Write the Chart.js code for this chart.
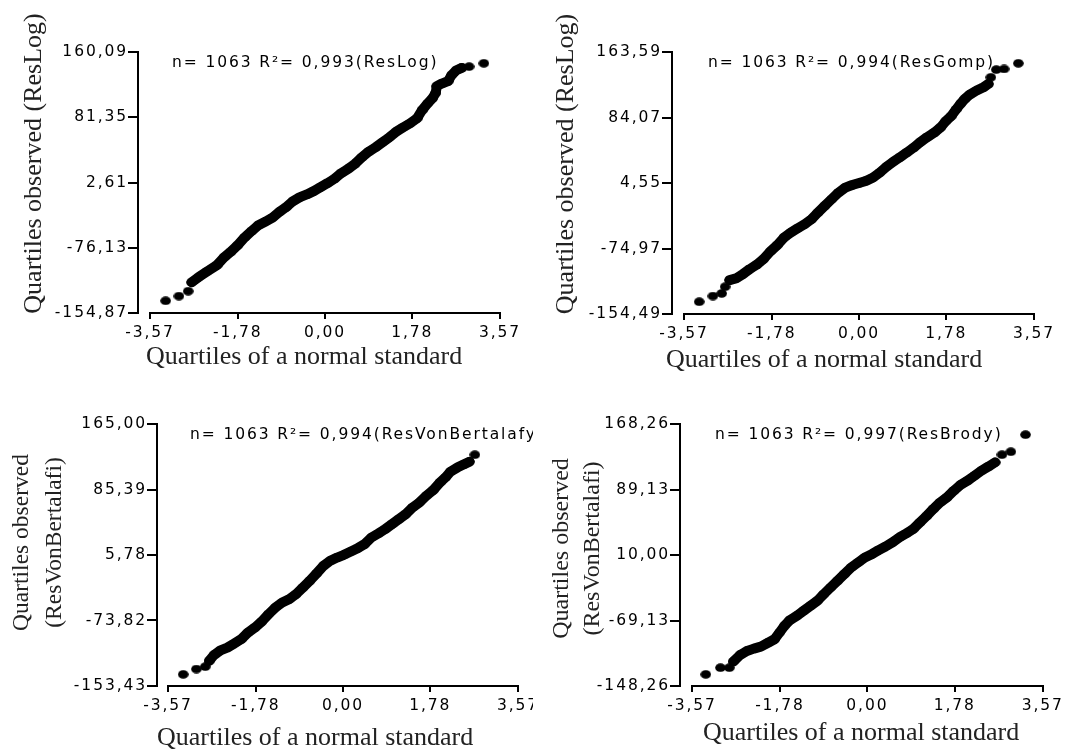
<!DOCTYPE html>
<html>
<head>
<meta charset="utf-8">
<script src="https://cdn.jsdelivr.net/npm/chart.js@4.4.1/dist/chart.umd.min.js"></script>
<style>
html,body{margin:0;padding:0;background:#fff;}
body{width:1065px;height:753px;position:relative;overflow:hidden;}
.panel{position:absolute;overflow:hidden;}
.panel canvas{position:absolute;left:0;top:0;}
</style>
</head>
<body>
<div class="panel" style="left:0px;top:0px;width:533px;height:378px"><canvas id="c1" width="533" height="378"></canvas></div>
<div class="panel" style="left:533px;top:0px;width:532px;height:380px"><canvas id="c2" width="532" height="380"></canvas></div>
<div class="panel" style="left:0px;top:380px;width:533px;height:373px"><canvas id="c3" width="570" height="373"></canvas></div>
<div class="panel" style="left:536px;top:380px;width:529px;height:373px"><canvas id="c4" width="529" height="373"></canvas></div>
<script>
// ---------- data ----------
const xTicks = [-3.57, -1.78, 0.00, 1.78, 3.57];

const p1YTicks = [-154.87, -76.13, 2.61, 81.35, 160.09];
const p2YTicks = [-154.49, -74.97, 4.55, 84.07, 163.59];
const p3YTicks = [-153.43, -73.82, 5.78, 85.39, 165.00];
const p4YTicks = [-148.26, -69.13, 10.00, 89.13, 168.26];

const p1Note = "n= 1063 R²= 0,993(ResLog)";
const p2Note = "n= 1063 R²= 0,994(ResGomp)";
const p3Note = "n= 1063 R²= 0,994(ResVonBertalafy)";
const p4Note = "n= 1063 R²= 0,997(ResBrody)";

const xTitle = "Quartiles of a normal standard";
const p1YTitle = ["Quartiles observed (ResLog)"];
const p2YTitle = ["Quartiles observed (ResLog)"];
const p3YTitle = ["Quartiles observed", "(ResVonBertalafi)"];
const p4YTitle = ["Quartiles observed", "(ResVonBertalafi)"];

const p1Tails = [{x:-3.25,y:-140.1},{x:-2.98,y:-134.5},{x:-2.79,y:-128.5},{x:2.94,y:142.5},{x:3.24,y:146.5}];
const p1Band = [
 {x:-2.72,y:-117.7},{x:-2.58,y:-111.7},{x:-2.41,y:-104.9},{x:-2.20,y:-96.9},{x:-2.06,y:-87.7},
 {x:-1.92,y:-80.9},{x:-1.78,y:-72.9},{x:-1.64,y:-63.7},{x:-1.50,y:-56.1},{x:-1.36,y:-48.9},
 {x:-1.21,y:-44.5},{x:-1.07,y:-39.7},{x:-0.93,y:-32.9},{x:-0.79,y:-27.0},{x:-0.65,y:-19.8},
 {x:-0.51,y:-15.0},{x:-0.37,y:-11.8},{x:-0.23,y:-7.8},{x:-0.09,y:-3.0},{x:0.05,y:1.8},
 {x:0.19,y:7.0},{x:0.33,y:13.8},{x:0.47,y:19.0},{x:0.61,y:25.0},{x:0.75,y:33.0},
 {x:0.89,y:39.8},{x:1.03,y:45.0},{x:1.17,y:51.0},{x:1.31,y:57.0},{x:1.45,y:63.8},
 {x:1.59,y:69.0},{x:1.73,y:73.8},{x:1.88,y:80.2},{x:1.98,y:89.8},{x:2.09,y:97.8},
 {x:2.19,y:104.1},{x:2.26,y:110.9},{x:2.28,y:118.9},{x:2.37,y:121.7},{x:2.51,y:124.9},
 {x:2.58,y:132.1},{x:2.68,y:138.1},{x:2.79,y:140.9}
];

const p2Tails = [{x:-3.26,y:-139.6},{x:-2.98,y:-132.7},{x:-2.80,y:-129.5},{x:-2.73,y:-121.4},
 {x:2.69,y:132.9},{x:2.80,y:142.2},{x:2.96,y:143.0},{x:3.25,y:149.9}];
const p2Band = [
 {x:-2.64,y:-113.3},{x:-2.51,y:-111.3},{x:-2.37,y:-106.1},{x:-2.23,y:-100.0},{x:-2.09,y:-94.8},
 {x:-1.95,y:-87.9},{x:-1.81,y:-78.6},{x:-1.67,y:-71.0},{x:-1.53,y:-61.7},{x:-1.39,y:-55.6},
 {x:-1.25,y:-50.4},{x:-1.11,y:-45.5},{x:-0.97,y:-39.5},{x:-0.84,y:-31.4},{x:-0.70,y:-23.3},
 {x:-0.56,y:-15.2},{x:-0.42,y:-7.2},{x:-0.28,y:-1.1},{x:-0.14,y:2.1},{x:0.00,y:4.5},
 {x:0.14,y:7.0},{x:0.28,y:11.0},{x:0.42,y:17.1},{x:0.56,y:24.3},{x:0.70,y:30.4},
 {x:0.84,y:36.0},{x:0.97,y:41.3},{x:1.11,y:47.3},{x:1.25,y:54.2},{x:1.39,y:60.2},
 {x:1.53,y:65.5},{x:1.67,y:72.4},{x:1.77,y:79.6},{x:1.88,y:85.7},{x:1.98,y:93.8},
 {x:2.07,y:100.6},{x:2.16,y:106.7},{x:2.26,y:111.9},{x:2.40,y:116.8},{x:2.54,y:120.8},
 {x:2.64,y:124.8}
];

const p3Tails = [{x:-3.26,y:-139.3},{x:-2.99,y:-132.8},{x:-2.81,y:-129.9},{x:2.69,y:127.7}];
const p3Band = [
 {x:-2.73,y:-123.0},{x:-2.63,y:-115.7},{x:-2.50,y:-110.1},{x:-2.36,y:-106.8},{x:-2.22,y:-101.9},
 {x:-2.08,y:-96.7},{x:-1.94,y:-88.5},{x:-1.80,y:-82.5},{x:-1.66,y:-75.2},{x:-1.52,y:-66.2},
 {x:-1.38,y:-58.1},{x:-1.24,y:-52.0},{x:-1.10,y:-48.0},{x:-0.96,y:-41.9},{x:-0.82,y:-33.8},
 {x:-0.68,y:-25.7},{x:-0.54,y:-16.7},{x:-0.40,y:-7.4},{x:-0.26,y:-1.3},{x:-0.12,y:2.7},
 {x:0.02,y:6.0},{x:0.16,y:10.0},{x:0.30,y:14.1},{x:0.44,y:19.0},{x:0.58,y:27.1},
 {x:0.72,y:31.9},{x:0.86,y:37.2},{x:1.00,y:43.3},{x:1.14,y:49.4},{x:1.28,y:55.5},
 {x:1.42,y:63.6},{x:1.56,y:69.7},{x:1.70,y:77.8},{x:1.84,y:84.7},{x:1.98,y:94.0},
 {x:2.09,y:100.1},{x:2.19,y:107.0},{x:2.34,y:112.3},{x:2.48,y:116.3},{x:2.58,y:119.2}
];

const p4Tails = [{x:-3.29,y:-134.2},{x:-2.99,y:-126.1},{x:-2.81,y:-126.1},
 {x:2.74,y:131.2},{x:2.92,y:134.8},{x:3.22,y:155.4}];
const p4Band = [
 {x:-2.73,y:-118.8},{x:-2.59,y:-110.8},{x:-2.45,y:-105.9},{x:-2.31,y:-103.1},{x:-2.17,y:-100.7},
 {x:-2.03,y:-96.3},{x:-1.89,y:-91.8},{x:-1.79,y:-83.8},{x:-1.69,y:-75.7},{x:-1.58,y:-68.8},
 {x:-1.44,y:-63.6},{x:-1.30,y:-57.5},{x:-1.16,y:-51.5},{x:-1.02,y:-45.4},{x:-0.89,y:-37.4},
 {x:-0.75,y:-29.3},{x:-0.61,y:-21.3},{x:-0.47,y:-13.2},{x:-0.33,y:-5.1},{x:-0.19,y:0.9},
 {x:-0.05,y:7.0},{x:0.09,y:11.0},{x:0.23,y:15.9},{x:0.37,y:20.3},{x:0.51,y:25.2},
 {x:0.65,y:31.2},{x:0.79,y:36.0},{x:0.93,y:41.3},{x:1.07,y:49.3},{x:1.21,y:57.4},
 {x:1.34,y:65.5},{x:1.48,y:73.5},{x:1.62,y:79.6},{x:1.76,y:87.7},{x:1.90,y:94.9},
 {x:2.04,y:99.8},{x:2.18,y:105.8},{x:2.32,y:111.8},{x:2.46,y:116.7},{x:2.60,y:121.9}
];

// ---------- styling / layout ----------
const SANS = '"DejaVu Sans", sans-serif';
const SERIF = '"Liberation Serif", "Times New Roman", serif';
const SANS_SIZE = 15.5;
const SPACING = '1.9px';

function fmt(v){ const s = Math.abs(v) < 0.005 ? '0.00' : v.toFixed(2); return s.replace('.', ','); }

function makeDot(w, h){
  const c = document.createElement('canvas');
  c.width = w; c.height = h;
  const g = c.getContext('2d');
  g.fillStyle = '#000';
  g.beginPath(); g.ellipse(w/2, h/2, w/2 - 0.2, h/2 - 0.2, 0, 0, Math.PI*2); g.fill();
  return c;
}
const dot = makeDot(11, 9);

const spacingPlugin = {
  id: 'spacing',
  beforeDraw(chart){ chart.ctx.letterSpacing = SPACING; }
};

const panelText = {
  id: 'panelText',
  afterDraw(chart, args, o){
    const ctx = chart.ctx;
    const ox = o.origin[0], oy = o.origin[1];
    ctx.save();
    ctx.letterSpacing = SPACING;
    ctx.fillStyle = '#000';
    ctx.font = SANS_SIZE + 'px ' + SANS;
    ctx.textAlign = 'left'; ctx.textBaseline = 'middle';
    ctx.fillText(o.note, o.noteAt[0] - ox, o.noteAt[1] - oy);
    ctx.letterSpacing = '0px';
    ctx.fillStyle = '#222';
    ctx.font = o.xTitleSize + 'px ' + SERIF;
    ctx.textAlign = 'left'; ctx.textBaseline = 'alphabetic';
    ctx.fillText(o.xTitle, o.xTitleAt[0] - ox, o.xTitleAt[1] - oy);
    ctx.font = o.yTitleSize + 'px ' + SERIF;
    ctx.textAlign = 'center';
    o.yTitle.forEach((line, i) => {
      ctx.save();
      ctx.translate(o.yTitleAt[i][0] - ox, o.yTitleAt[i][1] - oy);
      ctx.rotate(-Math.PI/2);
      ctx.fillText(line, 0, 0);
      ctx.restore();
    });
    ctx.restore();
  }
};

const panels = [
  {id:'c1', origin:[0,0], pad:{left:48,right:33,top:52,bottom:35}, gap:12,
   yTicks:p1YTicks, band:p1Band, tails:p1Tails, note:p1Note, noteAt:[172,63],
   xTitleAt:[146,364], xTitleSize:26, yTitle:p1YTitle, yTitleAt:[[41,163.5]], yTitleSize:26},
  {id:'c2', origin:[533,0], pad:{left:49,right:31,top:52,bottom:36}, gap:12,
   yTicks:p2YTicks, band:p2Band, tails:p2Tails, note:p2Note, noteAt:[708,63],
   xTitleAt:[666,367], xTitleSize:26, yTitle:p2YTitle, yTitleAt:[[573,164]], yTitleSize:26},
  {id:'c3', origin:[0,380], pad:{left:67,right:52,top:44,bottom:37}, gap:11,
   yTicks:p3YTicks, band:p3Band, tails:p3Tails, note:p3Note, noteAt:[190,435],
   xTitleAt:[157,745], xTitleSize:26, yTitle:p3YTitle, yTitleAt:[[28,542.5],[61,542.5]], yTitleSize:23.5},
  {id:'c4', origin:[536,380], pad:{left:54,right:22,top:44,bottom:37}, gap:12,
   yTicks:p4YTicks, band:p4Band, tails:p4Tails, note:p4Note, noteAt:[715,435],
   xTitleAt:[703,740], xTitleSize:26, yTitle:p4YTitle, yTitleAt:[[568,548.5],[599,548.5]], yTitleSize:24}
];

panels.forEach(p => {
  const yT = p.yTicks;
  new Chart(document.getElementById(p.id), {
    type: 'scatter',
    data: {
      datasets: [
        {data: p.band, showLine: true, borderColor: '#000', backgroundColor: '#000',
         borderWidth: 10, borderCapStyle: 'round', borderJoinStyle: 'round', tension: 0,
         pointStyle: dot, pointRadius: 5, pointHoverRadius: 5},
        {data: p.tails, showLine: false, borderColor: '#000', backgroundColor: '#000',
         pointStyle: dot, pointRadius: 5, pointHoverRadius: 5}
      ]
    },
    options: {
      responsive: false,
      animation: false,
      events: [],
      layout: {padding: p.pad},
      plugins: {
        legend: {display: false},
        tooltip: {enabled: false},
        panelText: {origin: p.origin, note: p.note, noteAt: p.noteAt, xTitle: xTitle,
          xTitleAt: p.xTitleAt, xTitleSize: p.xTitleSize, yTitle: p.yTitle,
          yTitleAt: p.yTitleAt, yTitleSize: p.yTitleSize}
      },
      scales: {
        x: {
          type: 'linear', position: 'bottom',
          min: xTicks[0], max: xTicks[xTicks.length - 1],
          afterBuildTicks: s => { s.ticks = xTicks.map(v => ({value: v})); },
          afterFit: s => { s.height = 30; },
          grid: {display: true, drawOnChartArea: false, drawTicks: true, tickLength: 6, color: '#000', lineWidth: 2},
          border: {display: true, color: '#000', width: 2},
          ticks: {color: '#000', font: {family: SANS, size: SANS_SIZE}, padding: 5,
                  maxRotation: 0, autoSkip: false, callback: v => fmt(v)}
        },
        y: {
          type: 'linear', position: 'left', weight: 1,
          min: yT[0], max: yT[yT.length - 1],
          afterBuildTicks: s => { s.ticks = yT.map(v => ({value: v})); },
          afterFit: s => { s.width = 90; },
          grid: {display: true, drawOnChartArea: false, drawTicks: true, tickLength: 10, color: '#000', lineWidth: 2},
          border: {display: true, color: '#000', width: 2},
          ticks: {color: '#000', font: {family: SANS, size: SANS_SIZE}, padding: 0,
                  autoSkip: false, callback: v => fmt(v)}
        },
        ySpacer: {
          type: 'linear', position: 'left', weight: 0, display: true,
          afterFit: s => { s.width = p.gap; },
          grid: {display: false}, border: {display: false}, ticks: {display: false}
        }
      }
    },
    plugins: [spacingPlugin, panelText]
  });
});
</script>
</body>
</html>
